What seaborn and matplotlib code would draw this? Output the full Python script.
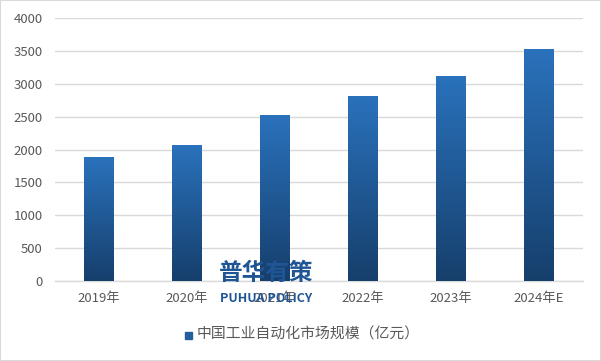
import numpy as np
import pandas as pd
import matplotlib
matplotlib.use("Agg")
import matplotlib.pyplot as plt
import seaborn as sns
from matplotlib.colors import LinearSegmentedColormap
from matplotlib.patches import Rectangle

years = ["2019年", "2020年", "2021年", "2022年", "2023年", "2024年E"]
values = [1885, 2068, 2525, 2815, 3118, 3530]
series_name = "中国工业自动化市场规模（亿元）"
y_ticks = [0, 500, 1000, 1500, 2000, 2500, 3000, 3500, 4000]

sns.set_theme(style="white")
plt.rcParams['font.family'] = ['Noto Sans CJK SC', 'DejaVu Sans']

df = pd.DataFrame({"year": years, "value": values})

fig = plt.figure(figsize=(6.01, 3.61), dpi=100)
ax = fig.add_axes([0.0915, 0.2216, 0.8785, 0.7284])

sns.barplot(data=df, x="year", y="value", ax=ax, color="#2466a8", width=0.33,
            saturation=1, zorder=2)

ax.set_ylim(0, 4000)
ax.set_xlim(-0.5, len(years) - 0.5)
ax.set_yticks(y_ticks)
ax.yaxis.grid(True, color="#d9d9d9", linewidth=1, zorder=0)
ax.set_axisbelow(True)
for s in ["left", "top", "right"]:
    ax.spines[s].set_visible(False)
ax.spines["bottom"].set_color("#d9d9d9")
ax.spines["bottom"].set_linewidth(1)
ax.tick_params(axis="both", length=0, labelsize=9.5, colors="#595959")
ax.tick_params(axis="y", pad=9)
ax.tick_params(axis="x", pad=8)
ax.set_xlabel("")
ax.set_ylabel("")

# gradient fill
cmap = LinearSegmentedColormap.from_list("g", ["#163f6c", "#2a72bc"])
grad = np.linspace(0, 1, 256).reshape(-1, 1)
for p in list(ax.patches):
    x0, y0 = p.get_x(), p.get_y()
    w, h = p.get_width(), p.get_height()
    im = ax.imshow(grad, extent=[x0, x0 + w, y0, y0 + h], origin="lower",
                   cmap=cmap, aspect="auto", zorder=3)
    im.set_clip_path(p)
    p.set_edgecolor("none")
ax.set_xlim(-0.5, len(years) - 0.5)
ax.set_ylim(0, 4000)

# legend
fig.patches.append(Rectangle((185 / 601, 1 - 339 / 361), 7 / 601, 7 / 361,
                             transform=fig.transFigure, color="#225f9c"))
fig.text(197 / 601, 1 - 335 / 361, series_name, fontsize=10.7, color="#595959",
         va="center", ha="left")

# watermark
fig.text(266 / 601, 1 - 273 / 361, "普华有策", fontsize=17, fontweight="bold",
         color="#1f5595", ha="center", va="center", zorder=10)
fig.text(266 / 601, 1 - 298 / 361, "PUHUA POLICY", fontsize=9, fontweight="bold",
         color="#1f5595", ha="center", va="center", zorder=10)

# frame
fig.patches.append(Rectangle((0, 0), 1, 1, transform=fig.transFigure, fill=False,
                             edgecolor="#d9d9d9", linewidth=1.5))

fig.savefig("out.png", dpi=100)
